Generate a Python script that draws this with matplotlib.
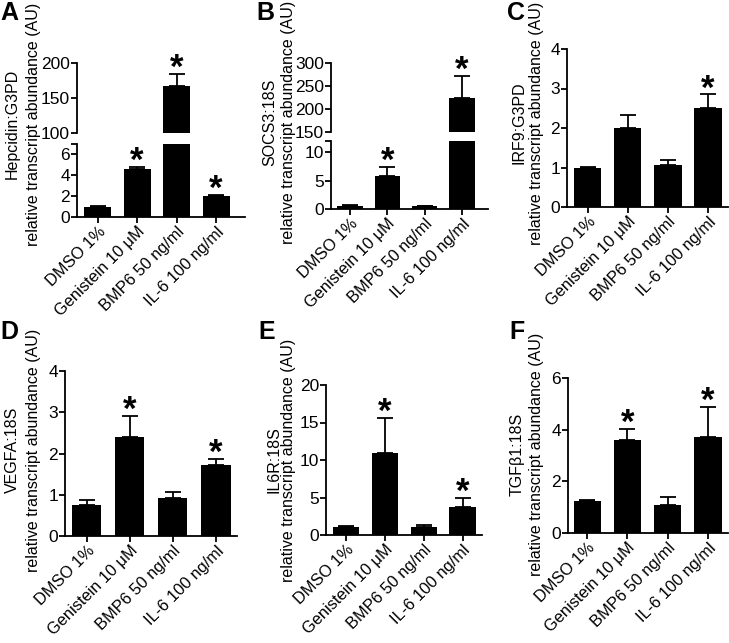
import numpy as np
import matplotlib
matplotlib.use('Agg')
import matplotlib.pyplot as plt

plt.rcParams['font.family'] = ['Liberation Sans', 'DejaVu Sans']

groups = ['DMSO 1%', 'Genistein 10 \u03bcM', 'BMP6 50 ng/ml', 'IL-6 100 ng/ml']

# mean and upper error (sem), order as groups
hepc_mean = [1.0, 4.6, 167.0, 2.05]
hepc_err = [0.05, 0.2, 18.0, 0.1]
socs_mean = [0.6, 5.8, 0.5, 225.0]
socs_err = [0.1, 1.6, 0.05, 46.0]
irf9_mean = [0.99, 2.0, 1.07, 2.5]
irf9_err = [0.02, 0.32, 0.13, 0.35]
vegf_mean = [0.75, 2.4, 0.92, 1.72]
vegf_err = [0.12, 0.5, 0.14, 0.15]
il6r_mean = [1.1, 11.0, 1.1, 3.7]
il6r_err = [0.07, 4.6, 0.2, 1.2]
tgfb_mean = [1.22, 3.6, 1.1, 3.7]
tgfb_err = [0.06, 0.42, 0.3, 1.17]

hepc_sig = [False, True, True, True]
socs_sig = [False, True, False, True]
irf9_sig = [False, False, False, True]
vegf_sig = [False, True, False, True]
il6r_sig = [False, True, False, True]
tgfb_sig = [False, True, False, True]

W, H = 729, 643
fig = plt.figure(figsize=(W / 100, H / 100), dpi=100)


def rect(l, t, r, b):
    return [l / W, 1 - b / H, (r - l) / W, (b - t) / H]


def style(ax):
    for s in ['top', 'right']:
        ax.spines[s].set_visible(False)
    for s in ['left', 'bottom']:
        ax.spines[s].set_linewidth(1.3)
    ax.tick_params(direction='out', length=4, width=1.3, pad=1)
    ax.tick_params(axis='y', labelsize=12.5)
    ax.tick_params(axis='x', labelsize=11.8)


def bars(ax, means, errs, sig, ylim):
    x = np.arange(len(means))
    means = np.array(means)
    errs = np.array(errs)
    ax.bar(x, means, width=0.68, color='black')
    ax.errorbar(x, means, yerr=[np.zeros(len(errs)), errs], fmt='none',
                ecolor='black', elinewidth=1.3, capsize=5.5, capthick=1.3)
    ax.set_ylim(*ylim)
    for xi, m, e, s in zip(x, means, errs, sig):
        top = m + e
        if s and ylim[0] <= top <= ylim[1]:
            ax.annotate('*', xy=(xi, top), xytext=(0, 4), textcoords='offset points',
                        ha='center', va='center', fontsize=25, fontweight='bold',
                        annotation_clip=False)


def xlabels(ax):
    ax.set_xticks(np.arange(len(groups)))
    ax.set_xticklabels(groups, rotation=45, ha='right', rotation_mode='anchor')


def ylabel(gene, x1, x2, y):
    # two separate lines, like the original two-line label
    fig.text(x1 / W, 1 - y / H, gene, rotation=90, ha='center', va='center', fontsize=11.5)
    fig.text(x2 / W, 1 - y / H, 'relative transcript abundance (AU)', rotation=90,
             ha='center', va='center', fontsize=11.5)


def letter(ch, x, y):
    fig.text(x / W, 1 - y / H, ch, ha='left', va='top', fontsize=18, fontweight='bold')


def broken(l, r, lo_top, lo_bot, up_top, up_bot, means, errs, sig,
           lo_lim, lo_ticks, up_lim, up_ticks, xlim):
    lo = fig.add_axes(rect(l, lo_top, r, lo_bot))
    up = fig.add_axes(rect(l, up_top, r, up_bot))
    bars(lo, means, errs, sig, lo_lim)
    bars(up, means, errs, sig, up_lim)
    for ax in (lo, up):
        style(ax)
        ax.set_xlim(*xlim)
    lo.set_yticks(lo_ticks + [lo_lim[1]])
    lo.set_yticklabels([str(t) for t in lo_ticks] + [''])
    up.set_yticks(up_ticks)
    up.spines['bottom'].set_visible(False)
    up.set_xticks([])
    xlabels(lo)
    return lo, up


# A - hepcidin (broken axis)
broken(77, 245, 144, 217, 63, 133, hepc_mean, hepc_err, hepc_sig,
       (0, 7), [0, 2, 4, 6], (100, 200), [100, 150, 200], (-0.52, 3.73))
ylabel('Hepcidin:G3PD', 12, 34, 124)
letter('A', 0, 1)

# B - SOCS3 (broken axis)
broken(331, 488, 141, 209, 63, 132, socs_mean, socs_err, socs_sig,
       (0, 12), [0, 5, 10], (150, 300), [150, 200, 250, 300], (-0.51, 3.7))
ylabel('SOCS3:18S', 270, 289, 122)
letter('B', 256, 1)

# C - IRF9
ax = fig.add_axes(rect(567, 49, 728, 207))
bars(ax, irf9_mean, irf9_err, irf9_sig, (0, 4))
style(ax)
ax.set_xlim(-0.52, 3.5)
ax.set_yticks([0, 1, 2, 3, 4])
xlabels(ax)
ylabel('IRF9:G3PD', 519, 537, 123)
letter('C', 507, 1)

# D - VEGFA
ax = fig.add_axes(rect(65, 371, 237, 536))
bars(ax, vegf_mean, vegf_err, vegf_sig, (0, 4))
style(ax)
ax.set_xlim(-0.5, 3.49)
ax.set_yticks([0, 1, 2, 3, 4])
xlabels(ax)
ylabel('VEGFA:18S', 12, 34, 450)
letter('D', 0, 320)

# E - IL6R
ax = fig.add_axes(rect(326, 385, 482, 535))
bars(ax, il6r_mean, il6r_err, il6r_sig, (0, 20))
style(ax)
ax.set_xlim(-0.52, 3.5)
ax.set_yticks([0, 5, 10, 15, 20])
xlabels(ax)
ylabel('IL6R:18S', 274, 289, 460)
letter('E', 258, 320)

# F - TGFb1
ax = fig.add_axes(rect(568, 378, 728, 533))
bars(ax, tgfb_mean, tgfb_err, tgfb_sig, (0, 6))
style(ax)
ax.set_xlim(-0.48, 3.5)
ax.set_yticks([0, 2, 4, 6])
xlabels(ax)
ylabel('TGF\u03b21:18S', 517, 537, 454)
letter('F', 509, 320)

fig.savefig('out.png', dpi=100)
